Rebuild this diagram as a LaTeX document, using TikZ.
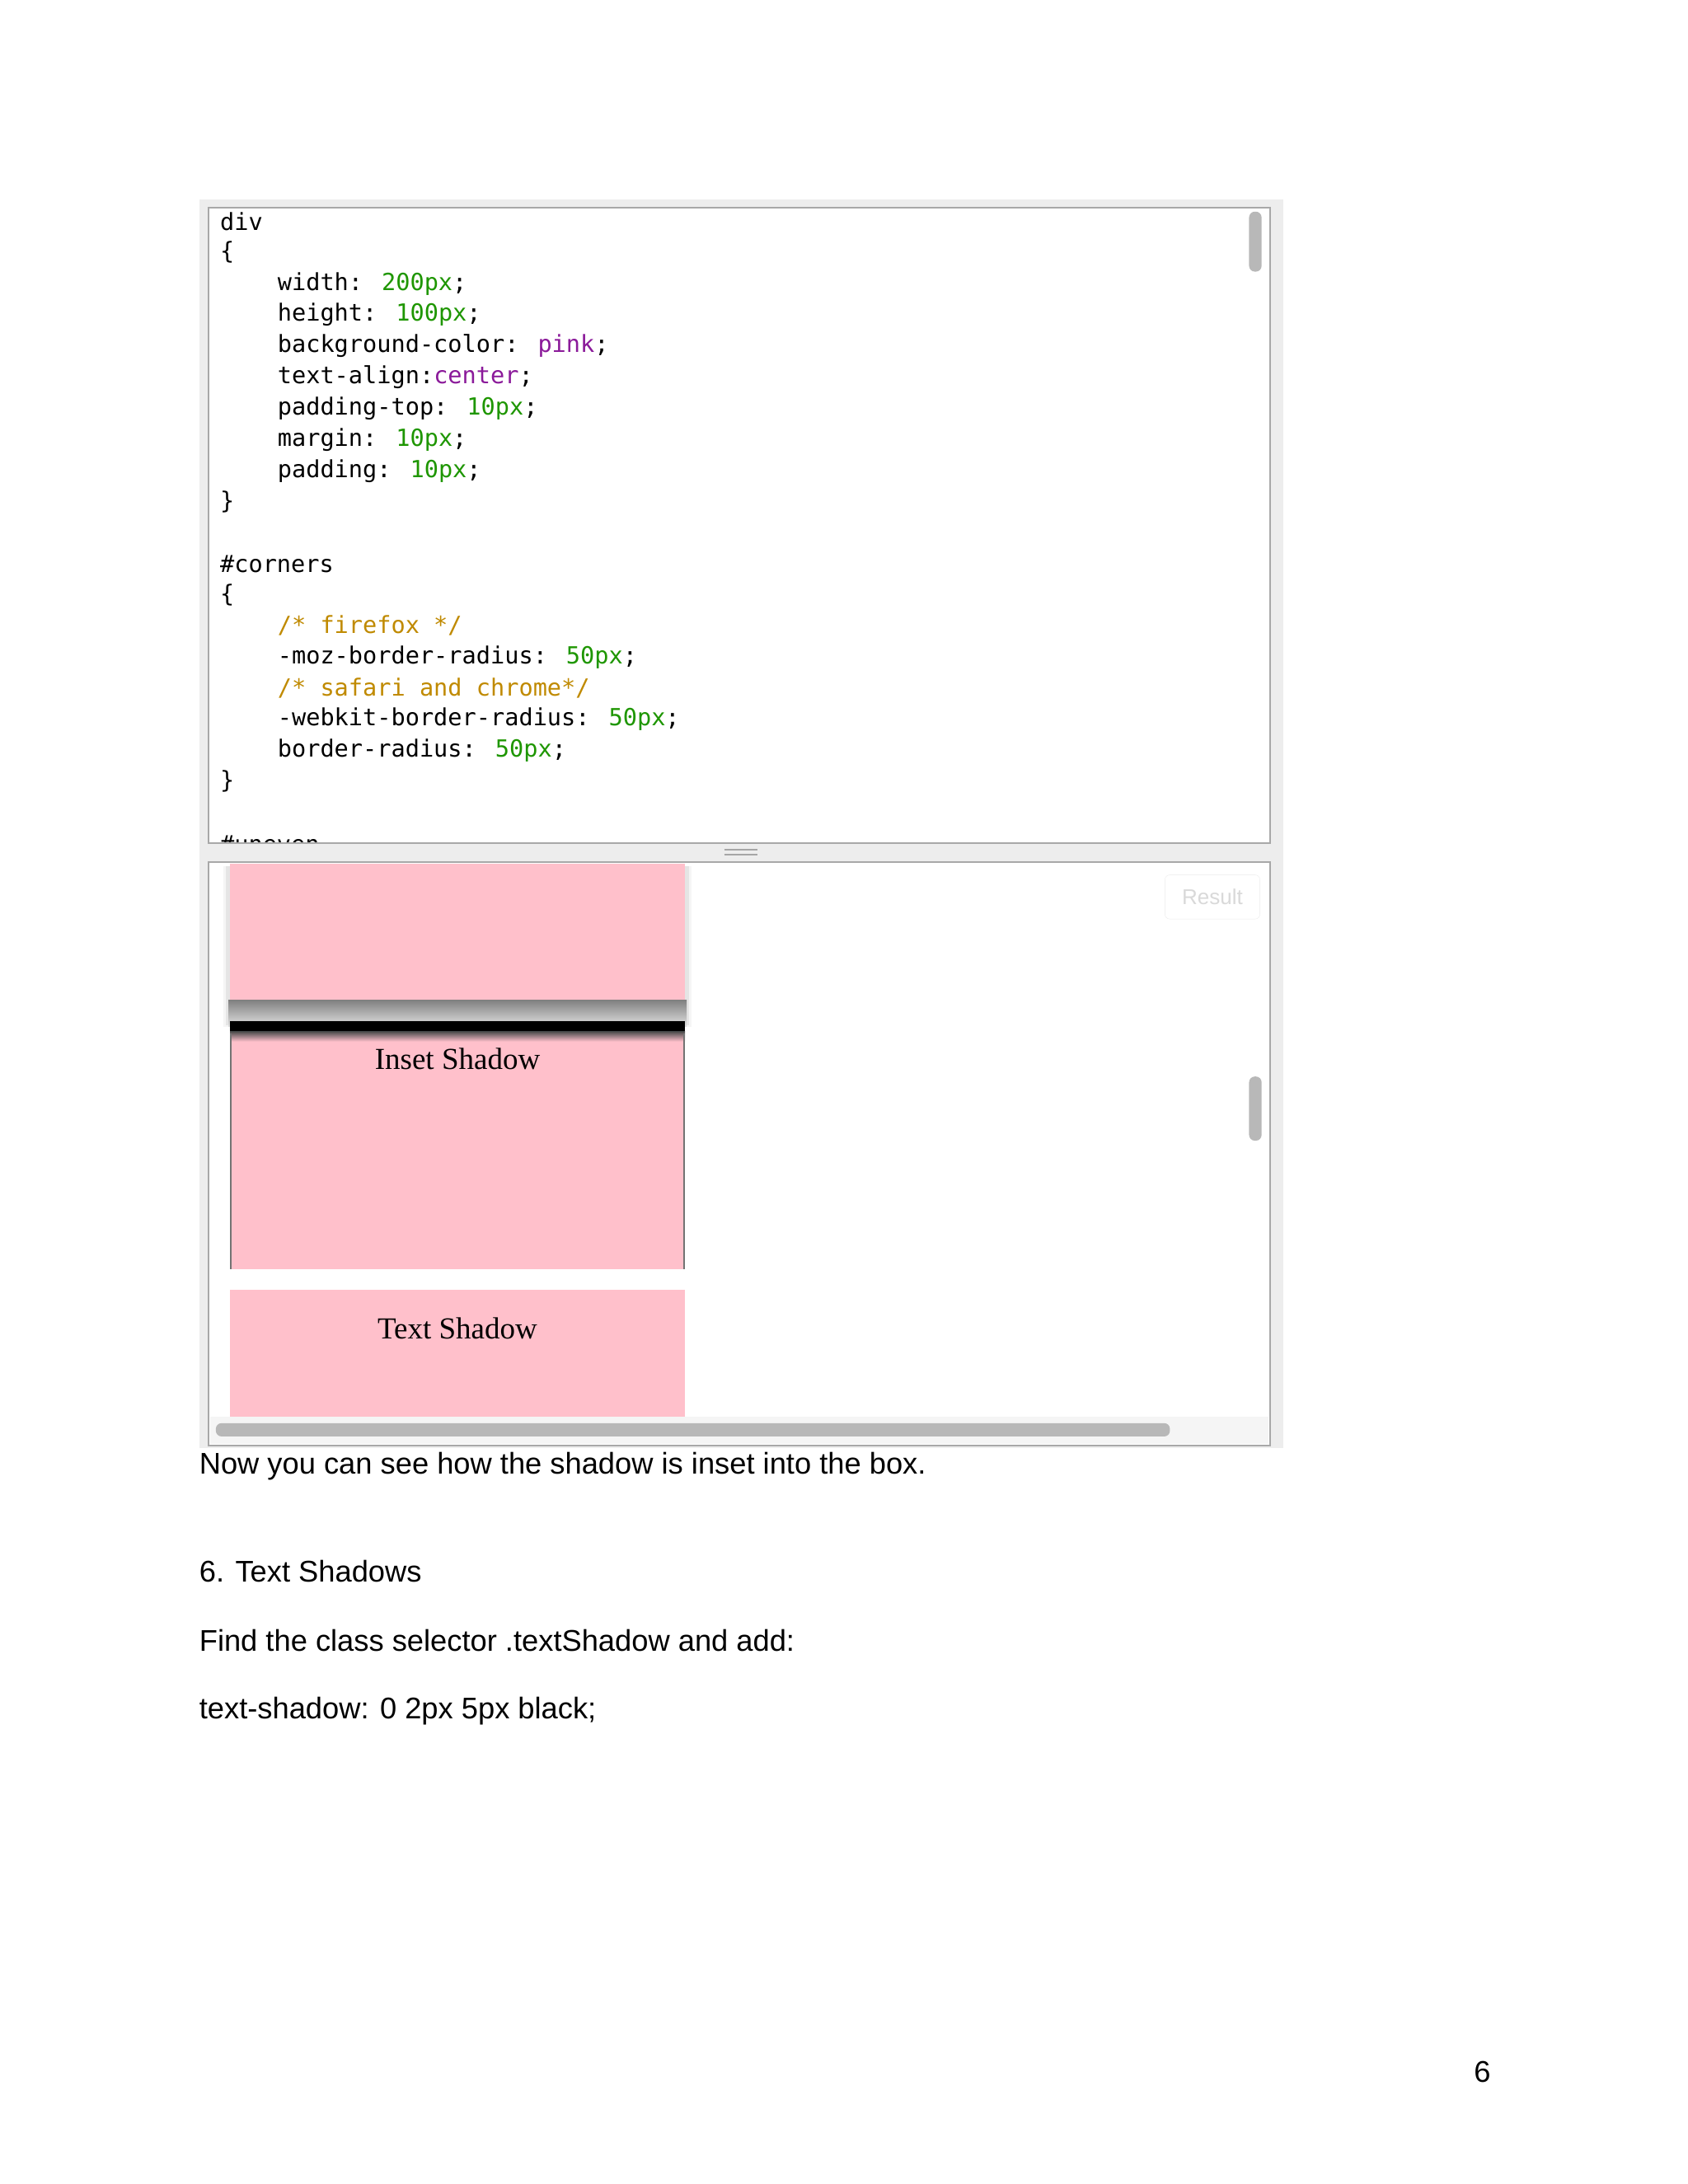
\documentclass[tikz,border=0pt]{standalone}
\usepackage{fontspec}
\setmainfont{Liberation Sans}
\newfontfamily\codefont{DejaVu Sans Mono}
\newfontfamily\seriffont{Liberation Serif}
\definecolor{cgreen}{HTML}{1E9600}
\definecolor{cpurple}{HTML}{8B1A9A}
\definecolor{ccomment}{HTML}{C08A00}
\definecolor{pinkbox}{HTML}{FFC0CB}
\definecolor{frame}{HTML}{A8A8A8}
\tikzset{
  code/.style={anchor=west,inner sep=0pt,font=\codefont\fontsize{28.6}{30}\selectfont},
  body/.style={anchor=west,inner sep=0pt,font=\fontsize{36.3}{40}\selectfont},
  lbl/.style={inner sep=0pt,font=\seriffont\fontsize{37}{40}\selectfont},
  pinkrect/.style={fill=pinkbox,draw=none},
  bar/.style={fill=black!28,draw=none,rounded corners=7pt}
}
\newcommand{\G}[1]{\textcolor{cgreen}{#1}}
\newcommand{\Pu}[1]{\textcolor{cpurple}{#1}}
\newcommand{\Cm}[1]{\textcolor{ccomment}{#1}}
\begin{document}
\begin{tikzpicture}[x=1.011pt,y=-1.011pt]
\useasboundingbox (0,0) rectangle (2025.7,2621.2);
\fill[white] (0,0) rectangle (2025.7,2621.2);
% outer frame
\fill[black!7] (239,239) rectangle (1540,1738);
\fill[white] (250,249) rectangle (1524,1012);
\draw[frame,line width=2pt] (250,249) rectangle (1524,1012);
\draw[black!35,line width=2pt] (869,1020) -- (909,1020) (869,1026) -- (909,1026);
\fill[white] (250,1035) rectangle (1524,1735);
\draw[frame,line width=2pt] (250,1035) rectangle (1524,1735);
% code scrollbar
\fill[bar] (1499,254) rectangle (1514,326);
% code
\begin{scope}
\clip (252,251) rectangle (1503,1010);
\node[code] (l1) at (264,266) {div};
\node[code] (l2) at (264,303) {\{};
\node[code] (l3) at (333,341) {width: \G{200px};};
\node[code] (l4) at (333,378) {height: \G{100px};};
\node[code] (l5) at (333,415) {background-color: \Pu{pink};};
\node[code] (l6) at (333,453) {text-align:\Pu{center};};
\node[code] (l7) at (333,490) {padding-top: \G{10px};};
\node[code] (l8) at (333,528) {margin: \G{10px};};
\node[code] (l9) at (333,565) {padding: \G{10px};};
\node[code] (l10) at (264,602) {\}};
\node[code] (l11) at (264,677) {\#corners};
\node[code] (l12) at (264,714) {\{};
\node[code] (l13) at (333,751) {\Cm{/* firefox */}};
\node[code] (l14) at (333,789) {-moz-border-radius: \G{50px};};
\node[code] (l15) at (333,826) {\Cm{/* safari and chrome*/}};
\node[code] (l16) at (333,863) {-webkit-border-radius: \G{50px};};
\node[code] (l17) at (333,901) {border-radius: \G{50px};};
\node[code] (l18) at (264,938) {\}};
\node[code] (l19) at (264,1013) {\#uneven};
\end{scope}
% result area
\begin{scope}
\clip (252,1037) rectangle (1490,1700);
\fill[black!4] (268,1040) rectangle (830,1232);
\fill[black!10] (271,1040) rectangle (827,1230);
\shade[top color=black!50,bottom color=black!12] (274,1200) rectangle (824,1232);
\fill[pinkrect] (276,1037) rectangle (822,1200);
\fill[black] (276,1226) rectangle (822,1238);
\shade[top color=black!70,bottom color=pinkbox] (276,1238) rectangle (822,1250);
\fill[pinkrect] (276,1250) rectangle (822,1523);
\draw[black!55,line width=2pt] (277,1240) -- (277,1523) (821,1240) -- (821,1523);
\fill[pinkrect] (276,1548) rectangle (822,1700);
\node[lbl] (inset) at (549,1271) {Inset Shadow};
\node[lbl] (tshadow) at (549,1594) {Text Shadow};
\end{scope}
\fill[black!4] (252,1700) rectangle (1522,1733);
\fill[bar] (259,1708) rectangle (1404,1724);
\fill[bar] (1499,1292) rectangle (1514,1369);
\draw[black!8,rounded corners=6pt] (1398,1050) rectangle (1512,1103);
\node[inner sep=0pt,text=black!15,font=\fontsize{26}{28}\selectfont] (result) at (1455,1076) {Result};
% body text
\node[body] (t1) at (239,1760) {Now you can see how the shadow is inset into the box.};
\node[body] (t2) at (239,1886) {6. Text Shadows};
\node[body] (t3) at (239,1969) {Find the class selector .textShadow and add:};
\node[body] (t4) at (239,2054) {text-shadow: 0 2px 5px black;};
\node[body,anchor=center] (pg) at (1779,2487) {6};
\end{tikzpicture}
\end{document}
